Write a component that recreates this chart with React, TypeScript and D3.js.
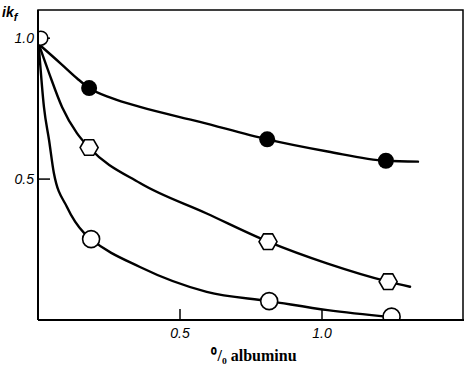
import React from 'react';
import * as d3 from 'd3';

// curves: [% albumin, relative value]
const upperCurve: [number, number][] = [
  [0.007, 0.975], [0.08, 0.91], [0.138, 0.857], [0.18, 0.823], [0.26, 0.787], [0.359, 0.756],
  [0.57, 0.703], [0.807, 0.641], [1.02, 0.598], [1.225, 0.565], [1.338, 0.562],
];
const middleCurve: [number, number][] = [
  [0.004, 0.975], [0.039, 0.876], [0.085, 0.755], [0.137, 0.663], [0.18, 0.612],
  [0.359, 0.486], [0.594, 0.378], [0.81, 0.278], [1.02, 0.2], [1.233, 0.136], [1.31, 0.118],
];
const lowerCurve: [number, number][] = [
  [0.003, 0.97], [0.021, 0.755], [0.039, 0.638], [0.056, 0.521], [0.102, 0.401],
  [0.162, 0.309], [0.187, 0.287], [0.359, 0.188], [0.594, 0.1], [0.814, 0.067],
  [1.02, 0.035], [1.245, 0.01],
];

const filledPoints: [number, number][] = [[0.18, 0.823], [0.807, 0.641], [1.225, 0.565]];
const hexPoints: [number, number][] = [[0.18, 0.612], [0.81, 0.278], [1.233, 0.136]];
const circlePoints: [number, number][] = [[0.01, 1.0], [0.187, 0.287], [0.814, 0.067], [1.245, 0.012]];

const xTicks = [0.5, 1.0];
const yTicks = [0.5, 1.0];

const W = 464;
const H = 369;
const left = 38, right = 464, top = 10, bottom = 320;

export default function App() {
  const x = d3.scaleLinear().domain([0, 1.5]).range([left, right]);
  const y = d3.scaleLinear().domain([0, 1.1]).range([bottom, top]);

  const line = d3.line<[number, number]>()
    .x(d => x(d[0]))
    .y(d => y(d[1]))
    .curve(d3.curveMonotoneX);

  const hex = (cx: number, cy: number, r: number) => {
    const pts = d3.range(6).map(i => {
      const a = (Math.PI / 3) * i;
      return [cx + r * Math.cos(a), cy + r * Math.sin(a)];
    });
    return 'M' + pts.map(p => p.join(',')).join('L') + 'Z';
  };

  const tickFont = { fontFamily: 'Liberation Sans, Arial, sans-serif', fontStyle: 'italic', fontSize: 14 };

  return (
    <svg width={W} height={H} style={{ position: 'absolute', left: 0, top: 0, background: '#fff' }}>
      <defs>
        <clipPath id="plot">
          <rect x={left} y={top} width={right - left} height={bottom - top} />
        </clipPath>
      </defs>
      <rect x={0} y={0} width={W} height={H} fill="#fff" />

      {/* ticks */}
      {xTicks.map(t => (
        <g key={'x' + t}>
          <line x1={x(t)} x2={x(t)} y1={bottom} y2={bottom - 11} stroke="#000" strokeWidth={1.5} />
          <text x={x(t)} y={bottom + 18} textAnchor="middle" {...tickFont}>{t.toFixed(1)}</text>
        </g>
      ))}
      {yTicks.map(t => (
        <g key={'y' + t}>
          <line x1={left} x2={left + 12} y1={y(t)} y2={y(t)} stroke="#000" strokeWidth={1.5} />
          <text x={left - 4} y={y(t) + 5} textAnchor="end" {...tickFont}>{t.toFixed(1)}</text>
        </g>
      ))}

      {/* y label */}
      <text x={2} y={17} {...tickFont} fontWeight="bold">
        ik<tspan dy={4} fontSize={11}>f</tspan>
      </text>

      <g clipPath="url(#plot)">
        {/* curves */}
        {[upperCurve, middleCurve, lowerCurve].map((c, i) => (
          <path key={i} d={line(c) ?? ''} fill="none" stroke="#000" strokeWidth={2.4} strokeLinecap="round" />
        ))}

        {/* markers */}
        {filledPoints.map((p, i) => (
          <circle key={'f' + i} cx={x(p[0])} cy={y(p[1])} r={8} fill="#000" />
        ))}
        {hexPoints.map((p, i) => (
          <path key={'h' + i} d={hex(x(p[0]), y(p[1]), 9)} fill="#fff" stroke="#000" strokeWidth={1.6} />
        ))}
        {circlePoints.map((p, i) => (
          <circle key={'c' + i} cx={x(p[0])} cy={y(p[1])} r={i === 0 ? 7 : 8.5} fill="#fff" stroke="#000" strokeWidth={1.6} />
        ))}
      </g>

      {/* frame */}
      <path d={`M${left},${bottom}V${top}H${right - 1}V${bottom}`} fill="none" stroke="#000" strokeWidth={1.5} />
      <line x1={left} x2={right} y1={bottom} y2={bottom} stroke="#000" strokeWidth={2} />
      <line x1={left} x2={left} y1={top} y2={bottom} stroke="#000" strokeWidth={2} />

      {/* x label */}
      <text x={254} y={361} textAnchor="middle" fontFamily="Liberation Serif, serif" fontSize={16} fontWeight="bold">
        ⁰/₀ albuminu
      </text>
    </svg>
  );
}
